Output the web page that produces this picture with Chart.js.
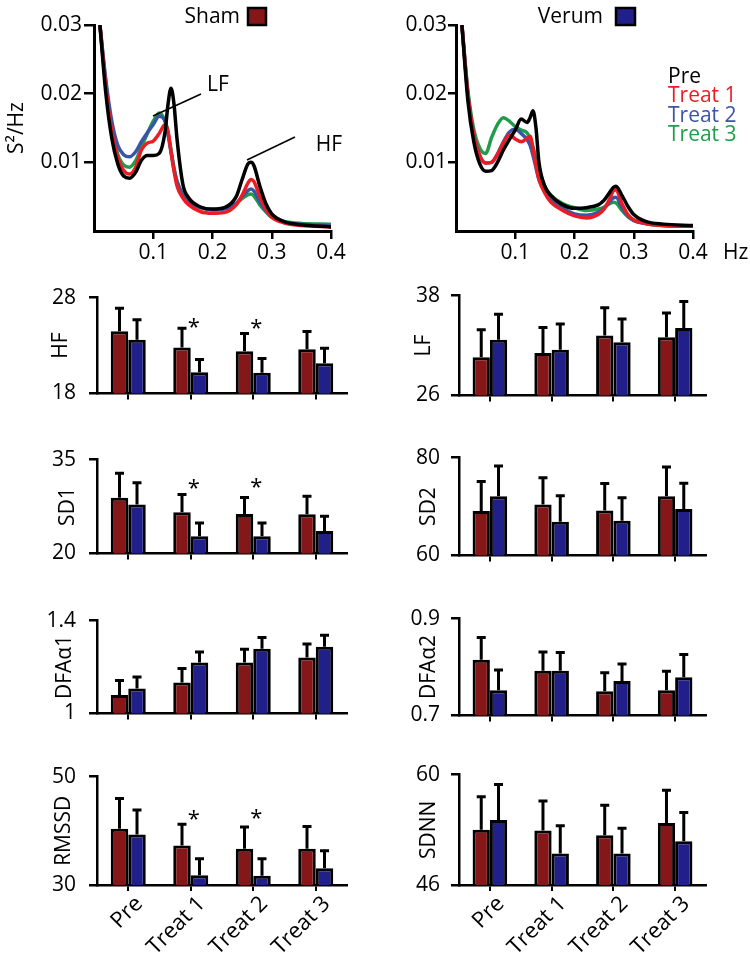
<!DOCTYPE html>
<html>
<head>
<meta charset="utf-8">
<script src="https://cdn.jsdelivr.net/npm/chart.js@4.4.1/dist/chart.umd.min.js"></script>
<style>
  html, body { margin: 0; padding: 0; background: #fff; }
  body { width: 750px; height: 956px; position: relative; overflow: hidden; }
  canvas { position: absolute; }
</style>
</head>
<body>
<script>
// ---------------- DATA ----------------
const categories = ['Pre', 'Treat 1', 'Treat 2', 'Treat 3'];
const groupNames = ['Sham', 'Verum'];
const seriesNames = ['Pre', 'Treat 1', 'Treat 2', 'Treat 3'];

// power spectra (S²/Hz) at these frequencies (Hz)
const freqHz = [0.01, 0.02, 0.03, 0.04, 0.05, 0.06, 0.07, 0.08, 0.09, 0.10, 0.11, 0.12, 0.125, 0.13, 0.135, 0.14, 0.15, 0.16, 0.18, 0.20, 0.22, 0.24, 0.25, 0.26, 0.265, 0.27, 0.28, 0.29, 0.30, 0.32, 0.35, 0.40];
const freqTicks = [0.1, 0.2, 0.3, 0.4];
const powerTicks = [0.01, 0.02, 0.03];

const shamPre    = [0.030, 0.020, 0.0135, 0.0098, 0.0080, 0.0077, 0.0085, 0.0103, 0.0110, 0.0110, 0.0113, 0.0145, 0.0185, 0.0208, 0.0185, 0.0135, 0.0068, 0.0048, 0.0035, 0.0032, 0.0034, 0.0050, 0.0075, 0.0098, 0.0100, 0.0095, 0.0065, 0.0040, 0.0025, 0.0014, 0.0009, 0.0006];
const shamTreat1 = [0.030, 0.021, 0.0145, 0.0108, 0.0088, 0.0083, 0.0092, 0.0118, 0.0128, 0.0131, 0.0142, 0.0155, 0.0145, 0.0115, 0.0088, 0.0066, 0.0048, 0.0038, 0.0028, 0.0026, 0.0027, 0.0038, 0.0052, 0.0070, 0.0075, 0.0072, 0.0050, 0.0032, 0.0020, 0.0012, 0.0008, 0.0006];
const shamTreat2 = [0.030, 0.022, 0.0160, 0.0125, 0.0111, 0.0108, 0.0115, 0.0130, 0.0143, 0.0155, 0.0167, 0.0160, 0.0140, 0.0115, 0.0090, 0.0072, 0.0052, 0.0042, 0.0034, 0.0031, 0.0032, 0.0040, 0.0050, 0.0059, 0.0061, 0.0058, 0.0042, 0.0030, 0.0021, 0.0013, 0.0010, 0.0008];
const shamTreat3 = [0.030, 0.0215, 0.0150, 0.0112, 0.0096, 0.0093, 0.0102, 0.0122, 0.0142, 0.0160, 0.0172, 0.0160, 0.0143, 0.0118, 0.0092, 0.0073, 0.0053, 0.0043, 0.0034, 0.0031, 0.0033, 0.0040, 0.0047, 0.0053, 0.0054, 0.0051, 0.0038, 0.0028, 0.0020, 0.0014, 0.0011, 0.0010];

const verumPre    = [0.030, 0.019, 0.0130, 0.0098, 0.0087, 0.0088, 0.0100, 0.0118, 0.0133, 0.0147, 0.0163, 0.0158, 0.0165, 0.0175, 0.0150, 0.0100, 0.0065, 0.0052, 0.0038, 0.0033, 0.0034, 0.0038, 0.0045, 0.0057, 0.0063, 0.0065, 0.0052, 0.0036, 0.0024, 0.0014, 0.0010, 0.0008];
const verumTreat1 = [0.030, 0.020, 0.0140, 0.0110, 0.0099, 0.0100, 0.0112, 0.0128, 0.0140, 0.0134, 0.0130, 0.0135, 0.0138, 0.0120, 0.0095, 0.0075, 0.0055, 0.0042, 0.0030, 0.0022, 0.0019, 0.0024, 0.0032, 0.0048, 0.0058, 0.0060, 0.0040, 0.0024, 0.0016, 0.0011, 0.0008, 0.0007];
const verumTreat2 = [0.030, 0.020, 0.0140, 0.0110, 0.0099, 0.0100, 0.0112, 0.0130, 0.0144, 0.0148, 0.0142, 0.0133, 0.0125, 0.0110, 0.0092, 0.0075, 0.0058, 0.0047, 0.0033, 0.0025, 0.0023, 0.0027, 0.0033, 0.0043, 0.0048, 0.0049, 0.0034, 0.0022, 0.0015, 0.0011, 0.0008, 0.0007];
const verumTreat3 = [0.030, 0.0205, 0.0148, 0.0121, 0.0113, 0.0136, 0.0155, 0.0165, 0.0160, 0.0152, 0.0147, 0.0143, 0.0135, 0.0122, 0.0105, 0.0090, 0.0065, 0.0052, 0.0040, 0.0034, 0.0030, 0.0032, 0.0035, 0.0040, 0.0042, 0.0041, 0.0030, 0.0021, 0.0016, 0.0011, 0.0008, 0.0007];

// bar panels: means and (upper) error bars, Sham vs Verum
const hfTicks = [18, 28];
const hfSham = [24.5, 22.8, 22.4, 22.6];
const hfShamErr = [2.4, 2.0, 1.85, 1.85];
const hfVerum = [23.6, 20.2, 20.15, 21.15];
const hfVerumErr = [2.1, 1.35, 1.5, 1.55];
const hfStars = [null, 25.5, 25.3, null];

const lfTicks = [26, 38];
const lfSham = [30.6, 31.1, 33.2, 33.0];
const lfShamErr = [3.3, 3.05, 3.35, 2.9];
const lfVerum = [32.7, 31.5, 32.4, 34.1];
const lfVerumErr = [3.05, 3.1, 2.8, 3.2];

const sd1Ticks = [20, 35];
const sd1Sham = [28.9, 26.6, 26.3, 26.25];
const sd1ShamErr = [3.9, 2.8, 2.65, 2.9];
const sd1Verum = [27.8, 22.75, 22.75, 23.6];
const sd1VerumErr = [3.5, 2.1, 2.1, 2.35];
const sd1Stars = [null, 31.2, 31.4, null];

const sd2Ticks = [60, 80];
const sd2Sham = [69.1, 70.4, 69.2, 72.1];
const sd2ShamErr = [6.0, 5.5, 5.5, 6.0];
const sd2Verum = [72.1, 66.9, 67.1, 69.5];
const sd2VerumErr = [6.2, 5.3, 4.7, 5.25];

const dfa1Ticks = [1, 1.4];
const dfa1Sham = [1.079, 1.133, 1.219, 1.241];
const dfa1ShamErr = [0.063, 0.06, 0.058, 0.058];
const dfa1Verum = [1.107, 1.219, 1.279, 1.287];
const dfa1VerumErr = [0.05, 0.046, 0.048, 0.05];

const dfa2Ticks = [0.7, 0.9];
const dfa2Sham = [0.815, 0.792, 0.75, 0.752];
const dfa2ShamErr = [0.046, 0.039, 0.038, 0.039];
const dfa2Verum = [0.752, 0.792, 0.771, 0.779];
const dfa2VerumErr = [0.042, 0.038, 0.035, 0.047];

const rmssdTicks = [30, 50];
const rmssdSham = [40.4, 37.3, 36.7, 36.7];
const rmssdShamErr = [5.55, 3.9, 4.0, 4.1];
const rmssdVerum = [39.3, 31.8, 31.7, 33.1];
const rmssdVerumErr = [4.55, 3.05, 3.15, 3.2];
const rmssdStars = [null, 43.1, 43.3, null];

const sdnnTicks = [46, 60];
const sdnnSham = [53.0, 52.9, 52.3, 53.85];
const sdnnShamErr = [4.2, 3.75, 3.8, 4.15];
const sdnnVerum = [54.25, 50.0, 50.0, 51.55];
const sdnnVerumErr = [4.5, 3.5, 3.2, 3.65];

// ---------------- STYLE ----------------
const groupColors = ['#861719', '#21208a'];
const seriesColors = ['#000000', '#ec1c24', '#3b54a5', '#1f9d48'];
const FONT = "'Open Sans', sans-serif";
Chart.defaults.font.family = FONT;
Chart.defaults.color = '#000';

function mkCanvas(left, top, w, h) {
  const c = document.createElement('canvas');
  c.width = w; c.height = h;
  c.style.left = left + 'px'; c.style.top = top + 'px';
  c.style.width = w + 'px'; c.style.height = h + 'px';
  document.body.appendChild(c);
  return c;
}

function decor(o) {
  return {
    id: 'decor',
    afterDatasetsDraw(chart) {
      const ctx = chart.ctx, xs = chart.scales.x, ys = chart.scales.y;
      ctx.save();
      ctx.fillStyle = '#000';
      ctx.strokeStyle = '#000';
      if (o.errors) {
        ctx.lineWidth = 3;
        o.errors.forEach((errs, di) => {
          const meta = chart.getDatasetMeta(di);
          meta.data.forEach((bar, j) => {
            const v = chart.data.datasets[di].data[j];
            const yBar = ys.getPixelForValue(v);
            const yTop = ys.getPixelForValue(v + errs[j]);
            ctx.beginPath();
            ctx.moveTo(bar.x, yBar); ctx.lineTo(bar.x, yTop);
            ctx.moveTo(bar.x - 4.5, yTop); ctx.lineTo(bar.x + 4.5, yTop);
            ctx.stroke();
          });
        });
      }
      if (o.stars) {
        ctx.font = '22px ' + FONT;
        ctx.textAlign = 'center';
        ctx.textBaseline = 'alphabetic';
        o.stars.forEach((v, j) => {
          if (v == null) return;
          ctx.fillText('*', xs.getPixelForValue(j) + 3, ys.getPixelForValue(v) + 12);
        });
      }
      if (o.header) {
        const h = o.header;
        ctx.font = '21px ' + FONT;
        ctx.textAlign = 'right';
        ctx.textBaseline = 'middle';
        ctx.fillText(h.text, h.textRight, h.y);
        ctx.fillStyle = h.fill;
        ctx.fillRect(h.box[0], h.box[1], h.box[2], h.box[3]);
        ctx.lineWidth = 2.5;
        ctx.strokeRect(h.box[0], h.box[1], h.box[2], h.box[3]);
        ctx.fillStyle = '#000';
      }
      if (o.notes) {
        ctx.font = '21px ' + FONT;
        ctx.textAlign = 'center';
        ctx.textBaseline = 'middle';
        ctx.lineWidth = 1.5;
        o.notes.forEach(n => {
          ctx.beginPath();
          ctx.moveTo(xs.getPixelForValue(n.from[0]), ys.getPixelForValue(n.from[1]));
          ctx.lineTo(xs.getPixelForValue(n.to[0]), ys.getPixelForValue(n.to[1]));
          ctx.stroke();
          ctx.fillText(n.text, xs.getPixelForValue(n.at[0]), ys.getPixelForValue(n.at[1]));
        });
      }
      if (o.legend) {
        ctx.font = '21px ' + FONT;
        ctx.textAlign = 'left';
        ctx.textBaseline = 'middle';
        seriesNames.forEach((name, i) => {
          ctx.fillStyle = seriesColors[i];
          ctx.fillText(name, o.legend.x, o.legend.y + i * o.legend.dy);
        });
        ctx.fillStyle = '#000';
      }
      if (o.unit) {
        ctx.font = '21px ' + FONT;
        ctx.textAlign = 'left';
        ctx.textBaseline = 'middle';
        ctx.fillText(o.unit.text, o.unit.x, o.unit.y);
      }
      ctx.restore();
    }
  };
}

function makeSpectrum(canvas, vals, cfg) {
  const datasets = seriesNames.map((name, i) => ({
    label: name,
    data: freqHz.map((f, j) => ({ x: f, y: vals[i][j] })),
    borderColor: seriesColors[i],
    borderWidth: 3.5,
    pointRadius: 0,
    cubicInterpolationMode: 'monotone',
    fill: false
  }));
  return new Chart(canvas, {
    type: 'line',
    data: { datasets },
    options: {
      responsive: false, devicePixelRatio: 1, animation: false, events: [],
      layout: { padding: { top: 25, right: cfg.padRight, left: 0, bottom: 0 } },
      plugins: { legend: { display: false }, tooltip: { enabled: false } },
      scales: {
        x: {
          type: 'linear', min: 0, max: 0.4,
          afterBuildTicks: s => { s.ticks = freqTicks.map(v => ({ value: v })); },
          afterFit: s => { s.height = 37; },
          ticks: { font: { size: 21 }, padding: 1, color: '#000', callback: v => String(v) },
          grid: { drawOnChartArea: false, color: '#000', lineWidth: 2.5, tickLength: 8 },
          border: { color: '#000', width: 3 }
        },
        y: {
          min: 0, max: 0.03,
          afterBuildTicks: s => { s.ticks = powerTicks.map(v => ({ value: v })); },
          afterFit: s => { s.width = cfg.yWidth; },
          ticks: { font: { size: 21 }, padding: cfg.yPad, color: '#000', callback: v => String(v) },
          grid: { drawOnChartArea: false, color: '#000', lineWidth: 2.5, tickLength: cfg.tickLen },
          border: { color: '#000', width: 3 },
          title: cfg.title ? { display: true, text: cfg.title, font: { size: 21 }, color: '#000', padding: { top: 4, bottom: 0 } } : { display: false }
        }
      }
    },
    plugins: [decor(cfg.decor)]
  });
}

function makeBars(canvas, p) {
  const bottom = !!p.bottom;
  const ds = (i, data) => ({
    label: groupNames[i], data,
    backgroundColor: groupColors[i], borderColor: '#000', borderWidth: 3,
    borderSkipped: false, categoryPercentage: 0.56, barPercentage: 1
  });
  return new Chart(canvas, {
    type: 'bar',
    data: { labels: categories, datasets: [ds(0, p.sham), ds(1, p.verum)] },
    options: {
      responsive: false, devicePixelRatio: 1, animation: false, events: [],
      layout: { padding: { top: 14, right: p.padRight, left: 0, bottom: 0 } },
      plugins: { legend: { display: false }, tooltip: { enabled: false } },
      scales: {
        x: {
          offset: true,
          afterFit: s => { s.height = bottom ? 70 : 12; },
          grid: { offset: false, drawOnChartArea: false, color: '#000', lineWidth: 2, tickLength: 6 },
          border: { color: '#000', width: 2.5 },
          ticks: { display: bottom, autoSkip: false, minRotation: 45, maxRotation: 45, font: { size: 22 }, padding: 0, labelOffset: 11, color: '#000' }
        },
        y: {
          min: p.ticks[0], max: p.ticks[1],
          afterBuildTicks: s => { s.ticks = p.ticks.map(v => ({ value: v })); },
          afterFit: s => { s.width = p.yWidth; },
          grid: { drawOnChartArea: false, color: '#000', lineWidth: 2.5, tickLength: 8 },
          border: { color: '#000', width: 2.5 },
          ticks: { font: { size: 21 }, padding: p.tickPad, color: '#000', callback: v => String(v) },
          title: { display: true, text: p.title, font: { size: 21 }, color: '#000', padding: { top: p.titlePad, bottom: 0 } }
        }
      }
    },
    plugins: [decor({ errors: [p.shamErr, p.verumErr], stars: p.stars })]
  });
}

// ---------------- LAYOUT ----------------
makeSpectrum(mkCanvas(0, 0, 370, 268),
  [shamPre, shamTreat1, shamTreat2, shamTreat3],
  { padRight: 39, yWidth: 94, yPad: 2, tickLen: 10, title: 'S²/Hz',
    decor: {
      header: { text: groupNames[0], textRight: 240, y: 17, fill: groupColors[0], box: [248, 8, 18, 17] },
      notes: [
        { text: 'LF', from: [0.0996, 0.01675], to: [0.1806, 0.01995], at: [0.2093, 0.0213] },
        { text: 'HF', from: [0.2582, 0.01034], to: [0.3392, 0.01369], at: [0.3966, 0.0125] }
      ]
    } });

makeSpectrum(mkCanvas(370, 0, 380, 268),
  [verumPre, verumTreat1, verumTreat2, verumTreat3],
  { padRight: 57, yWidth: 86, yPad: 1, tickLen: 8, title: null,
    decor: {
      header: { text: groupNames[1], textRight: 233, y: 17, fill: groupColors[1], box: [246, 8, 19, 17] },
      legend: { x: 298, y: 77, dy: 19.5 },
      unit: { text: 'Hz', x: 353, y: 253 }
    } });

const rows = [[286, 407], [448, 567], [609, 727], [765, 885]];
const leftPanels = [
  { title: 'HF', ticks: hfTicks, sham: hfSham, shamErr: hfShamErr, verum: hfVerum, verumErr: hfVerumErr, stars: hfStars, titlePad: 48 },
  { title: 'SD1', ticks: sd1Ticks, sham: sd1Sham, shamErr: sd1ShamErr, verum: sd1Verum, verumErr: sd1VerumErr, stars: sd1Stars, titlePad: 55 },
  { title: 'DFAα1', ticks: dfa1Ticks, sham: dfa1Sham, shamErr: dfa1ShamErr, verum: dfa1Verum, verumErr: dfa1VerumErr, titlePad: 52 },
  { title: 'RMSSD', ticks: rmssdTicks, sham: rmssdSham, shamErr: rmssdShamErr, verum: rmssdVerum, verumErr: rmssdVerumErr, stars: rmssdStars, titlePad: 51, bottom: true }
];
const rightPanels = [
  { title: 'LF', ticks: lfTicks, sham: lfSham, shamErr: lfShamErr, verum: lfVerum, verumErr: lfVerumErr, titlePad: 41 },
  { title: 'SD2', ticks: sd2Ticks, sham: sd2Sham, shamErr: sd2ShamErr, verum: sd2Verum, verumErr: sd2VerumErr, titlePad: 46 },
  { title: 'DFAα2', ticks: dfa2Ticks, sham: dfa2Sham, shamErr: dfa2ShamErr, verum: dfa2Verum, verumErr: dfa2VerumErr, titlePad: 46 },
  { title: 'SDNN', ticks: sdnnTicks, sham: sdnnSham, shamErr: sdnnShamErr, verum: sdnnVerum, verumErr: sdnnVerumErr, titlePad: 46, bottom: true }
];

rows.forEach((r, i) => {
  const xh = i === 3 ? 70 : 12;
  const h = 14 + (r[1] - r[0]) + xh;
  const lp = Object.assign({ yWidth: 97, padRight: 23, tickPad: 13 }, leftPanels[i]);
  makeBars(mkCanvas(0, r[0] - 14, 370, h), lp);
  const rp = Object.assign({ yWidth: 89, padRight: 44, tickPad: 11 }, rightPanels[i]);
  makeBars(mkCanvas(370, r[0] - 14, 380, h), rp);
});
</script>
</body>
</html>
